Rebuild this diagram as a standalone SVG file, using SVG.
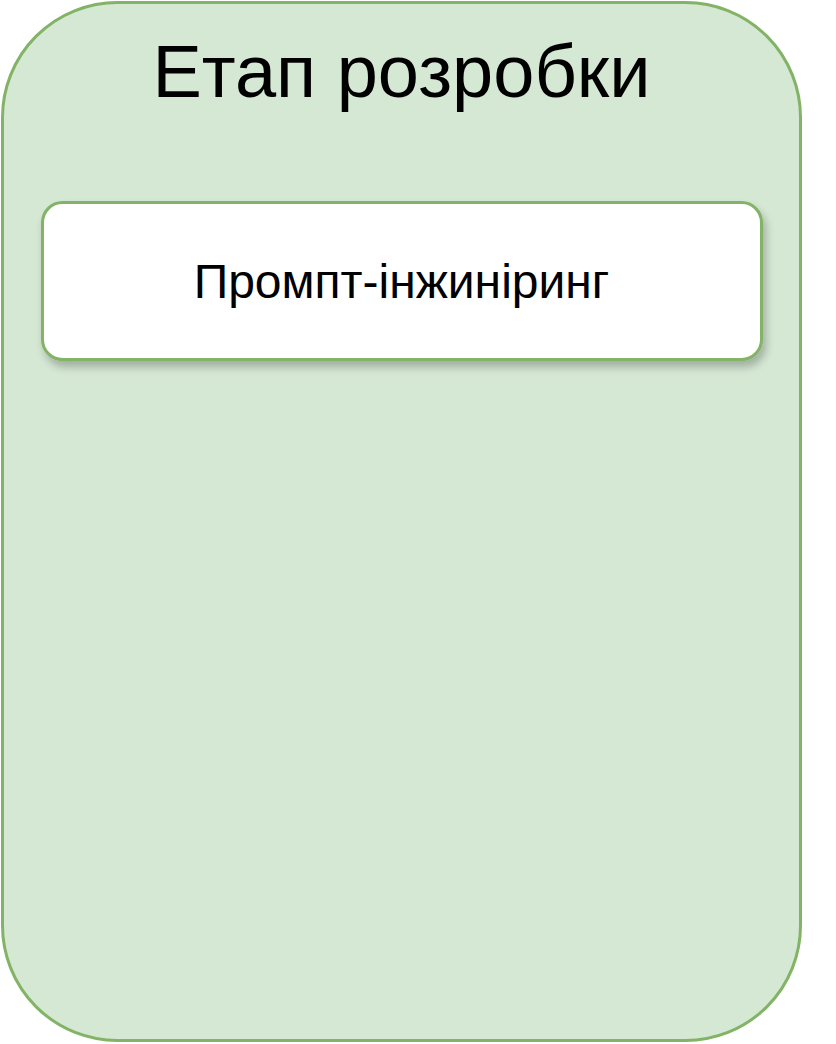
<svg xmlns="http://www.w3.org/2000/svg" width="836" height="1044" viewBox="0 0 836 1044">
<defs>
<style>
.t{font-family:"Liberation Sans",Arial,Helvetica,sans-serif;fill:#000;text-anchor:middle}
</style>
<filter id="sh" x="-10%" y="-20%" width="120%" height="150%">
<feGaussianBlur in="SourceAlpha" stdDeviation="4"/>
<feOffset dx="3" dy="6" result="b"/>
<feComponentTransfer><feFuncA type="linear" slope="0.25"/></feComponentTransfer>
<feMerge><feMergeNode/><feMergeNode in="SourceGraphic"/></feMerge>
</filter>
</defs>
<rect width="836" height="1044" fill="#ffffff"/>
<g id="stage">
<rect x="2.5" y="2.5" width="798" height="1038" rx="115" ry="115" fill="#d5e8d4" stroke="#82b366" stroke-width="3"/>
<text class="t" x="401.5" y="97" font-size="74">Етап розробки</text>
</g>
<g id="connectors"></g>
<g id="prompt">
<rect x="42.5" y="202.5" width="719" height="157" rx="20" ry="20" fill="#ffffff" stroke="#82b366" stroke-width="3" filter="url(#sh)"/>
<text class="t" x="401.5" y="298" font-size="48">Промпт-інжиніринг</text>
</g>
</svg>
